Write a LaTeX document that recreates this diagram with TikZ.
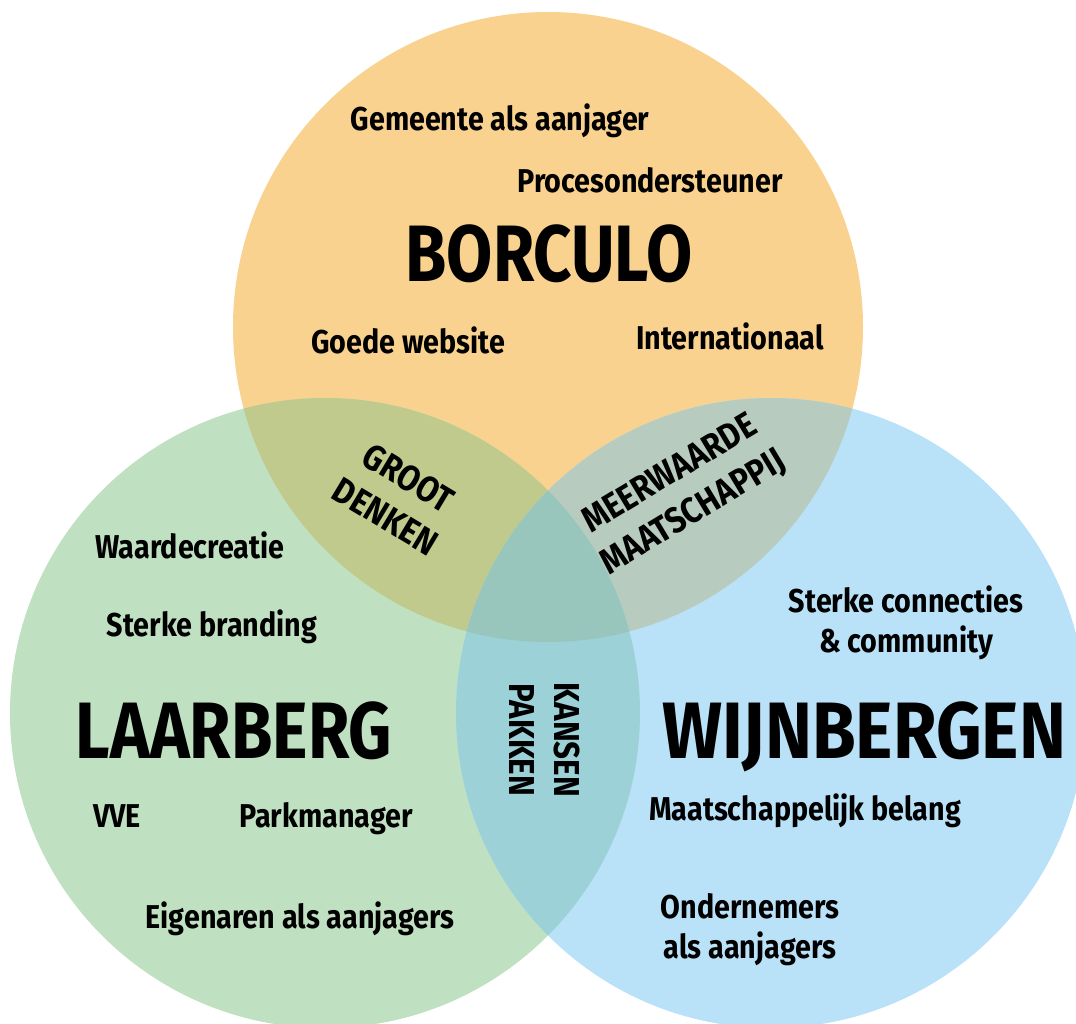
\documentclass[tikz,border=0pt]{standalone}
\usepackage{fontspec}
\usepackage{graphicx}
\newfontfamily\labelfont{Fira Sans}[FakeStretch=0.87]
\newfontfamily\titlefont{Fira Sans}[FakeStretch=0.85]
% set a title to a given width, keeping its height
\newcommand{\widthto}[2]{\resizebox{#1}{\height}{#2}}
\definecolor{orangefill}{RGB}{249,210,143}
\definecolor{greenfill}{RGB}{192,224,194}
\definecolor{bluefill}{RGB}{185,225,247}
\definecolor{ogfill}{RGB}{192,202,141}
\definecolor{obfill}{RGB}{183,203,191}
\definecolor{gbfill}{RGB}{155,209,215}
\definecolor{ogbfill}{RGB}{153,198,188}
\begin{document}
\begin{tikzpicture}[x=1pt,y=-1pt,
  item/.style={font=\labelfont\bfseries\fontsize{33}{40}\selectfont, inner sep=0pt, anchor=base, align=center},
  bigtitle/.style={font=\titlefont\bfseries\fontsize{80}{80}\selectfont, inner sep=0pt, anchor=base},
  lens/.style={font=\labelfont\bfseries\fontsize{36}{45}\selectfont, inner sep=0pt, align=center},
  ring/.style={radius=315}]
\useasboundingbox (0,0) rectangle (1076,1024);
\coordinate (B) at (548,327);
\coordinate (L) at (325,713);
\coordinate (W) at (771,713);
\begin{scope}
  \clip (0,0) rectangle (1076,1024);
  % the three sets
  \fill[orangefill] (B) circle[ring];
  \fill[greenfill] (L) circle[ring];
  \fill[bluefill] (W) circle[ring];
  % pairwise overlaps
  \begin{scope}
    \clip (B) circle[ring];
    \fill[ogfill] (L) circle[ring];
    \fill[obfill] (W) circle[ring];
  \end{scope}
  \begin{scope}
    \clip (L) circle[ring];
    \fill[gbfill] (W) circle[ring];
  \end{scope}
  % common core
  \begin{scope}
    \clip (B) circle[ring];
    \clip (L) circle[ring];
    \fill[ogbfill] (W) circle[ring];
  \end{scope}
\end{scope}

% Borculo
\node[item] (gem) at (500,131) {Gemeente als aanjager};
\node[item] (proc) at (650,193) {Procesondersteuner};
\node[bigtitle] (borculo) at (549,282) {\widthto{287pt}{BORCULO}};
\node[item] (web) at (408,353) {Goede website};
\node[item] (int) at (730,349) {Internationaal};

% Laarberg
\node[item] (waarde) at (190,558) {Waardecreatie};
\node[item] (brand) at (212,636) {Sterke branding};
\node[bigtitle] (laarberg) at (234,758) {\widthto{316pt}{LAARBERG}};
\node[item] (vve) at (117,827) {VVE};
\node[item] (park) at (326,827) {Parkmanager};
\node[item] (eig) at (300,928) {Eigenaren als aanjagers};

% Wijnbergen
\node[item] (conn) at (906,652) {Sterke connecties\\\& community};
\node[bigtitle] (wijn) at (864,758) {\widthto{404pt}{WIJNBERGEN}};
\node[item] (maat) at (805,820) {Maatschappelijk belang};
\node[item] (ond) at (750,958) {Ondernemers\\als aanjagers};

% overlaps
\node[lens, rotate=-31] (groot) at (397,497) {GROOT\\DENKEN};
\node[lens, rotate=31] (meer) at (682,494) {MEERWAARDE\\MAATSCHAPPIJ};
\node[lens, rotate=-90] (kansen) at (545,740) {KANSEN\\PAKKEN};
\end{tikzpicture}
\end{document}
